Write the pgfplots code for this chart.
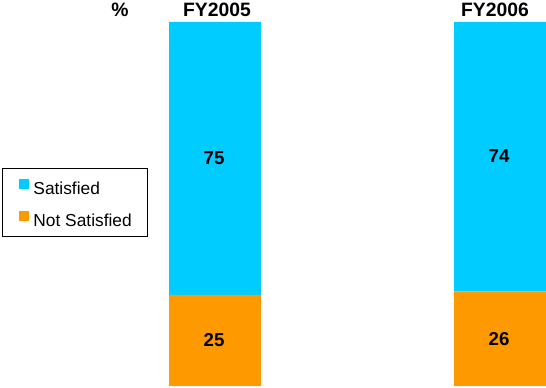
\documentclass[border=0pt]{standalone}
\usepackage{pgfplots}
\pgfplotsset{compat=1.18}
\usepackage{fontspec}
\setmainfont{Liberation Sans}
\definecolor{satcyan}{HTML}{00CCFF}
\definecolor{notorange}{HTML}{FF9900}
\begin{document}
\begin{tikzpicture}
\pgfplotsset{
  base/.style={
    scale only axis, width=409.5pt, height=273pt,
    xmin=0, xmax=546, ymin=0, ymax=100,
    hide axis, clip=false, at={(0,0)}, anchor=south west,
  }
}
\begin{axis}[base,
  ybar stacked, bar width=92,
  reverse legend,
  legend cell align=left,
  legend style={at={(axis cs:2.3,59.8)}, anchor=north west,
    draw=black, line width=0.75pt, fill=white,
    inner xsep=12pt, inner ysep=7.5pt, row sep=12.5pt, column sep=3.5pt,
    font=\fontsize{13}{15}\selectfont,
    nodes={inner sep=0pt, text depth=0pt}},
]
\addplot[fill=notorange, draw=none,
  legend image code/.code={\fill[notorange] (0pt,-0.5pt) rectangle (7.5pt,7pt);}]
  coordinates {(215,25) (500,26)};
\addlegendentry{Not Satisfied}
\addplot[fill=satcyan, draw=none,
  legend image code/.code={\fill[satcyan] (0pt,-0.5pt) rectangle (7.5pt,7pt);}]
  coordinates {(215,75) (500,74)};
\addlegendentry{Satisfied}
\node[anchor=base, font=\fontsize{14.5}{17}\selectfont\bfseries] at (axis cs:120,101.46) {\%};
\node[anchor=base, font=\fontsize{14.5}{17}\selectfont\bfseries] at (axis cs:217,101.46) {FY2005};
\node[anchor=base, font=\fontsize{14.5}{17}\selectfont\bfseries] at (axis cs:495,101.46) {FY2006};
\end{axis}
\begin{axis}[base]
\addplot[draw=none, mark=none, nodes near coords, point meta=explicit symbolic,
  nodes near coords align=center,
  every node near coord/.append style={font=\fontsize{14}{17}\selectfont\bfseries, anchor=center}]
  coordinates {(214,62.6)[75] (499,63.2)[74] (214,12.7)[25] (499,12.9)[26]};
\end{axis}
\pgfresetboundingbox
\path (0,-1.5pt) rectangle (409.5pt,289.5pt);
\end{tikzpicture}
\end{document}
